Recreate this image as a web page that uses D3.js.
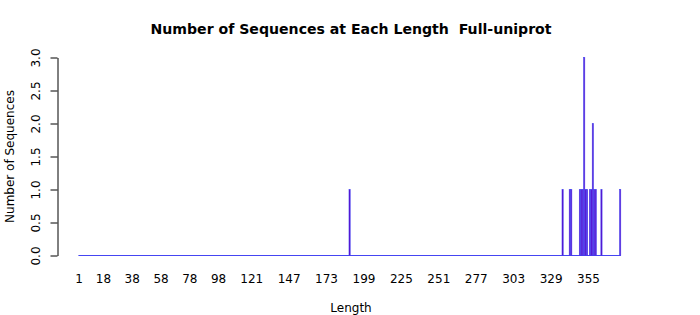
<!DOCTYPE html>
<html>
<head>
<meta charset="utf-8">
<script src="https://cdn.jsdelivr.net/npm/d3@7"></script>
<style>
  html, body { margin: 0; padding: 0; background: #ffffff; }
  svg { display: block; font-family: "DejaVu Sans", sans-serif; }
</style>
</head>
<body>
<svg id="chart" width="700" height="315"></svg>
<script>
// ---- data ----
const minLength = 1;
const maxLength = 377;
const peakLengths = [189, 337, 342, 343, 349, 350, 351, 352, 353, 354, 356, 357, 358, 359, 360, 364, 377];
const peakCounts  = [1,   1,   1,   1,   1,   1,   1,   3,   1,   1,   1,   1,   2,   1,   1,   1,   1];
const xTickLabels = ["1", "18", "38", "58", "78", "98", "121", "147", "173", "199", "225", "251", "277", "303", "329", "355"];
const yTicks = [0, 0.5, 1, 1.5, 2, 2.5, 3];
const titleText = "Number of Sequences at Each Length  Full-uniprot";
const xTitle = "Length";
const yTitle = "Number of Sequences";

// ---- build table ----
const categories = d3.range(minLength, maxLength + 1).map(String);
const countMap = new Map(peakLengths.map((l, i) => [String(l), peakCounts[i]]));
const table = categories.map(c => ({ len: c, count: countMap.get(c) || 0 }));

// ---- layout ----
const svg = d3.select("#chart");
const step = 1.4393;
const firstCenter = 79;
const x = d3.scaleBand()
  .domain(categories)
  .range([firstCenter - step / 2, firstCenter - step / 2 + step * categories.length])
  .paddingInner(0.2 / 1.2)
  .paddingOuter(0.1 / 1.2);
const y = d3.scaleLinear().domain([0, 3]).range([255.5, 57.5]);

const fillCol = "#5c00c4";
const strokeCol = "#4545f2";

// zero-height bars appear as a border line along the baseline
svg.append("line")
  .attr("x1", x(categories[0]))
  .attr("x2", x(categories[categories.length - 1]) + x.bandwidth())
  .attr("y1", y(0)).attr("y2", y(0))
  .attr("stroke", strokeCol)
  .attr("stroke-width", 1);

// non-zero bars
svg.append("g")
  .selectAll("rect")
  .data(table.filter(d => d.count > 0))
  .join("rect")
  .attr("x", d => x(d.len))
  .attr("width", x.bandwidth())
  .attr("y", d => y(d.count))
  .attr("height", d => y(0) - y(d.count))
  .attr("fill", fillCol)
  .attr("stroke", strokeCol)
  .attr("stroke-width", 0.6);

// y axis
const axisX = 57.5;
const yAxis = d3.axisLeft(y).tickValues(yTicks).tickFormat(d3.format(".1f")).tickSize(7).tickSizeOuter(0);
const gy = svg.append("g").attr("transform", `translate(${axisX},0)`).call(yAxis);
gy.select(".domain").attr("stroke", "#000").attr("stroke-width", 1);
gy.selectAll(".tick line").attr("stroke", "#000");
gy.selectAll(".tick text")
  .attr("font-size", 12)
  .attr("font-family", "DejaVu Sans, sans-serif")
  .attr("fill", "#000")
  .attr("dy", null)
  .attr("text-anchor", "middle")
  .attr("transform", "rotate(-90)")
  .attr("x", 0)
  .attr("y", -17.5);

// x labels (no ticks)
svg.append("g")
  .selectAll("text")
  .data(xTickLabels)
  .join("text")
  .attr("x", d => x(d) + x.bandwidth() / 2)
  .attr("y", 283)
  .attr("text-anchor", "middle")
  .attr("font-size", 12)
  .attr("fill", "#000")
  .text(d => d);

// titles
const plotCenter = 351;
svg.append("text")
  .attr("x", plotCenter).attr("y", 34)
  .attr("text-anchor", "middle")
  .attr("font-family", "DejaVu Sans")
  .attr("font-size", 14.1)
  .attr("font-weight", "bold")
  .attr("fill", "#000")
  .style("white-space", "pre")
  .attr("xml:space", "preserve")
  .text(titleText);

svg.append("text")
  .attr("x", plotCenter).attr("y", 312)
  .attr("text-anchor", "middle")
  .attr("font-size", 12)
  .attr("fill", "#000")
  .text(xTitle);

svg.append("text")
  .attr("transform", `translate(13.5,${(y(0) + y(3)) / 2}) rotate(-90)`)
  .attr("text-anchor", "middle")
  .attr("font-size", 12)
  .attr("fill", "#000")
  .text(yTitle);
</script>
</body>
</html>
